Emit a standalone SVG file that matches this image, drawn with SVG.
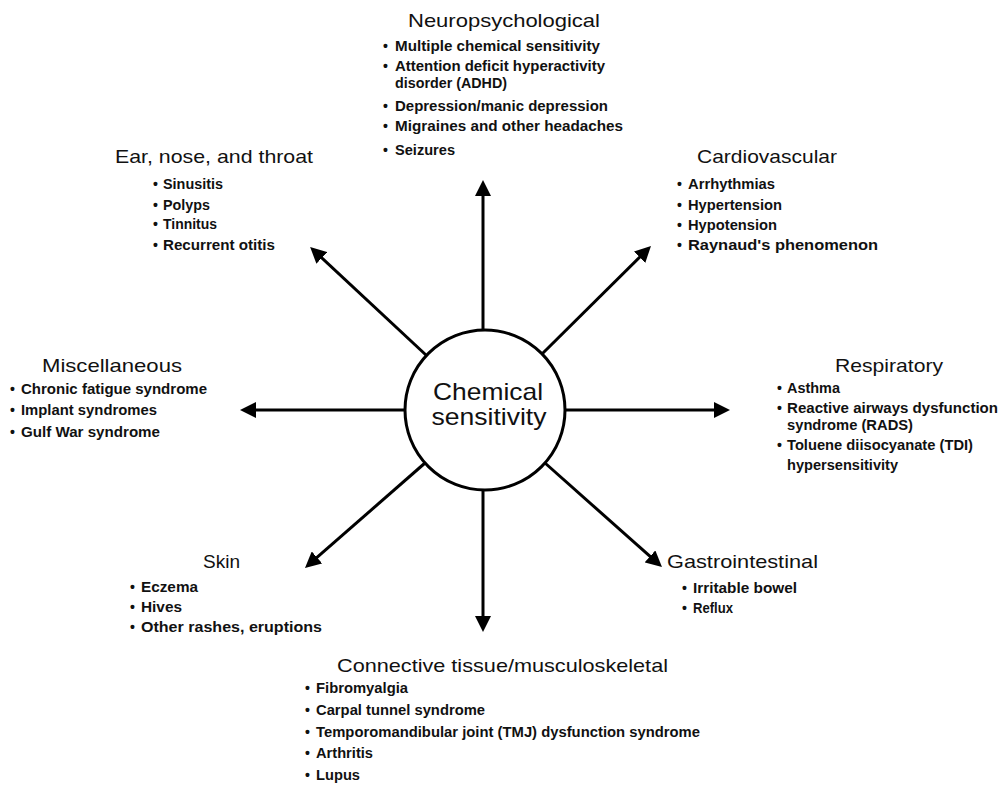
<svg xmlns="http://www.w3.org/2000/svg" width="1002" height="790" viewBox="0 0 1002 790">
<style>
text{font-family:"Liberation Sans",Arial,sans-serif;fill:#111}
.t{font-size:19px}
.i{font-size:15px;font-weight:bold}
.b{font-size:14px;font-weight:bold}
.c{font-size:24px;text-anchor:middle}
.ln{stroke:#000;stroke-width:3;fill:none;marker-end:url(#ah)}
</style>
<defs>
<marker id="ah" viewBox="0 0 16 16" refX="8" refY="8" markerWidth="16" markerHeight="16" markerUnits="userSpaceOnUse" orient="auto">
<path d="M0,0 L16,8 L0,16 z" fill="#000"/>
</marker>
</defs>
<rect width="1002" height="790" fill="#fff"/>
<g id="connectors">
<line class="ln" x1="483" y1="330" x2="483" y2="188"/>
<line class="ln" x1="483" y1="490" x2="483" y2="624"/>
<line class="ln" x1="405" y1="410" x2="248" y2="410"/>
<line class="ln" x1="565" y1="410" x2="722" y2="410"/>
<line class="ln" x1="426" y1="355" x2="316" y2="252.5"/>
<line class="ln" x1="542" y1="354" x2="645.3" y2="251.6"/>
<line class="ln" x1="425" y1="463" x2="311" y2="562.7"/>
<line class="ln" x1="545" y1="463" x2="656" y2="561.7"/>
</g>
<g id="center">
<circle cx="485" cy="410" r="80" fill="#fff" stroke="#000" stroke-width="3"/>
<text class="c" x="488" y="400" textLength="110" lengthAdjust="spacingAndGlyphs">Chemical</text>
<text class="c" x="489" y="425" textLength="115" lengthAdjust="spacingAndGlyphs">sensitivity</text>
</g>
<g id="neuropsychological">
<text class="t" x="408" y="27" textLength="192" lengthAdjust="spacingAndGlyphs">Neuropsychological</text>
<text class="b" x="383" y="51">•</text><text class="i" x="395" y="51" textLength="205" lengthAdjust="spacingAndGlyphs">Multiple chemical sensitivity</text>
<text class="b" x="383" y="71">•</text><text class="i" x="395" y="71" textLength="210" lengthAdjust="spacingAndGlyphs">Attention deficit hyperactivity</text>
<text class="i" x="395" y="88" textLength="112" lengthAdjust="spacingAndGlyphs">disorder (ADHD)</text>
<text class="b" x="383" y="111">•</text><text class="i" x="395" y="111" textLength="213" lengthAdjust="spacingAndGlyphs">Depression/manic depression</text>
<text class="b" x="383" y="131">•</text><text class="i" x="395" y="131" textLength="228" lengthAdjust="spacingAndGlyphs">Migraines and other headaches</text>
<text class="b" x="383" y="155">•</text><text class="i" x="395" y="155" textLength="60" lengthAdjust="spacingAndGlyphs">Seizures</text>
</g>
<g id="ent">
<text class="t" x="115" y="163" textLength="198" lengthAdjust="spacingAndGlyphs">Ear, nose, and throat</text>
<text class="b" x="153" y="189">•</text><text class="i" x="163" y="189" textLength="60" lengthAdjust="spacingAndGlyphs">Sinusitis</text>
<text class="b" x="153" y="210">•</text><text class="i" x="163" y="210" textLength="47" lengthAdjust="spacingAndGlyphs">Polyps</text>
<text class="b" x="153" y="229">•</text><text class="i" x="163" y="229" textLength="54" lengthAdjust="spacingAndGlyphs">Tinnitus</text>
<text class="b" x="153" y="250">•</text><text class="i" x="163" y="250" textLength="112" lengthAdjust="spacingAndGlyphs">Recurrent otitis</text>
</g>
<g id="cardiovascular">
<text class="t" x="697" y="163" textLength="140" lengthAdjust="spacingAndGlyphs">Cardiovascular</text>
<text class="b" x="677" y="189">•</text><text class="i" x="688" y="189" textLength="87" lengthAdjust="spacingAndGlyphs">Arrhythmias</text>
<text class="b" x="677" y="210">•</text><text class="i" x="688" y="210" textLength="94" lengthAdjust="spacingAndGlyphs">Hypertension</text>
<text class="b" x="677" y="230">•</text><text class="i" x="688" y="230" textLength="89" lengthAdjust="spacingAndGlyphs">Hypotension</text>
<text class="b" x="677" y="250">•</text><text class="i" x="688" y="250" textLength="190" lengthAdjust="spacingAndGlyphs">Raynaud's phenomenon</text>
</g>
<g id="miscellaneous">
<text class="t" x="42" y="372" textLength="140" lengthAdjust="spacingAndGlyphs">Miscellaneous</text>
<text class="b" x="10" y="394">•</text><text class="i" x="21" y="394" textLength="186" lengthAdjust="spacingAndGlyphs">Chronic fatigue syndrome</text>
<text class="b" x="10" y="415">•</text><text class="i" x="21" y="415" textLength="136" lengthAdjust="spacingAndGlyphs">Implant syndromes</text>
<text class="b" x="10" y="437">•</text><text class="i" x="21" y="437" textLength="139" lengthAdjust="spacingAndGlyphs">Gulf War syndrome</text>
</g>
<g id="respiratory">
<text class="t" x="835" y="372" textLength="108" lengthAdjust="spacingAndGlyphs">Respiratory</text>
<text class="b" x="777" y="393">•</text><text class="i" x="787" y="393" textLength="53" lengthAdjust="spacingAndGlyphs">Asthma</text>
<text class="b" x="777" y="413">•</text><text class="i" x="787" y="413" textLength="211" lengthAdjust="spacingAndGlyphs">Reactive airways dysfunction</text>
<text class="i" x="787" y="430" textLength="126" lengthAdjust="spacingAndGlyphs">syndrome (RADS)</text>
<text class="b" x="777" y="450">•</text><text class="i" x="787" y="450" textLength="186" lengthAdjust="spacingAndGlyphs">Toluene diisocyanate (TDI)</text>
<text class="i" x="787" y="470" textLength="111" lengthAdjust="spacingAndGlyphs">hypersensitivity</text>
</g>
<g id="skin">
<text class="t" x="203" y="568" textLength="37" lengthAdjust="spacingAndGlyphs">Skin</text>
<text class="b" x="130" y="592">•</text><text class="i" x="141" y="592" textLength="57" lengthAdjust="spacingAndGlyphs">Eczema</text>
<text class="b" x="130" y="612">•</text><text class="i" x="141" y="612" textLength="41" lengthAdjust="spacingAndGlyphs">Hives</text>
<text class="b" x="130" y="632">•</text><text class="i" x="141" y="632" textLength="181" lengthAdjust="spacingAndGlyphs">Other rashes, eruptions</text>
</g>
<g id="gastrointestinal">
<text class="t" x="667" y="568" textLength="151" lengthAdjust="spacingAndGlyphs">Gastrointestinal</text>
<text class="b" x="682" y="593">•</text><text class="i" x="693" y="593" textLength="104" lengthAdjust="spacingAndGlyphs">Irritable bowel</text>
<text class="b" x="682" y="613">•</text><text class="i" x="693" y="613" textLength="40" lengthAdjust="spacingAndGlyphs">Reflux</text>
</g>
<g id="connective">
<text class="t" x="337" y="672" textLength="331" lengthAdjust="spacingAndGlyphs">Connective tissue/musculoskeletal</text>
<text class="b" x="305" y="693">•</text><text class="i" x="316" y="693" textLength="92" lengthAdjust="spacingAndGlyphs">Fibromyalgia</text>
<text class="b" x="305" y="715">•</text><text class="i" x="316" y="715" textLength="169" lengthAdjust="spacingAndGlyphs">Carpal tunnel syndrome</text>
<text class="b" x="305" y="737">•</text><text class="i" x="316" y="737" textLength="384" lengthAdjust="spacingAndGlyphs">Temporomandibular joint (TMJ) dysfunction syndrome</text>
<text class="b" x="305" y="758">•</text><text class="i" x="316" y="758" textLength="57" lengthAdjust="spacingAndGlyphs">Arthritis</text>
<text class="b" x="305" y="780">•</text><text class="i" x="316" y="780" textLength="44" lengthAdjust="spacingAndGlyphs">Lupus</text>
</g>
</svg>
